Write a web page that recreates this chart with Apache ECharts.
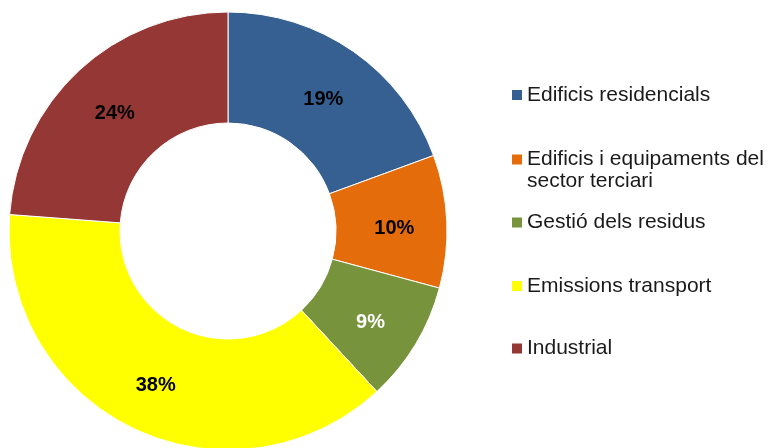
<!DOCTYPE html>
<html>
<head>
<meta charset="utf-8">
<script src="https://cdn.jsdelivr.net/npm/echarts@6/dist/echarts.min.js"></script>
<style>
html,body{margin:0;padding:0;background:#fff;}
#c{width:769px;height:448px;}
</style>
</head>
<body>
<div id="c"></div>
<script>
const categories = ["Edificis residencials", "Edificis i equipaments del sector terciari", "Gestió dels residus", "Emissions transport", "Industrial"];
const values = [19.4, 9.8, 8.9, 38.1, 23.8];
const colors = ["#376092", "#E46C0A", "#77933C", "#FFFF00", "#953735"];
const labelColors = ["#000", "#000", "#fff", "#000", "#000"];

const FONT = "'Liberation Sans', Arial, sans-serif";
const legendTops = [84, 126.5, 211.5, 275, 337.5];

const chart = echarts.init(document.getElementById('c'), null, {renderer: 'canvas'});
const legends = categories.map((name, i) => ({
  left: 512,
  top: legendTops[i],
  padding: 0,
  orient: 'vertical',
  itemWidth: 10,
  itemHeight: 10,
  icon: 'rect',
  selectedMode: false,
  itemStyle: {borderWidth: 0},
  data: [name],
  // multi-line entries: blank first line so the marker sits beside the first text line
  formatter: n => (n.length > 30 ? '\n' : '') + n,
  textStyle: {
    fontFamily: FONT,
    fontSize: 21,
    color: '#1a1a1a',
    lineHeight: 22,
    width: 245,
    overflow: 'break'
  }
}));

chart.setOption({
  animation: false,
  color: colors,
  legend: legends,
  series: [{
    type: 'pie',
    center: [228, 231],
    radius: [108, 219],
    startAngle: 90,
    clockwise: true,
    avoidLabelOverlap: false,
    itemStyle: {borderColor: '#fff', borderWidth: 1},
    label: {
      show: true,
      position: 'inside',
      offset: [0, 5],
      fontFamily: FONT,
      fontSize: 20,
      fontWeight: 'bold',
      formatter: p => Math.round(p.value) + '%'
    },
    labelLine: {show: false},
    emphasis: {disabled: true},
    data: categories.map((n, i) => ({
      name: n,
      value: values[i],
      label: {color: labelColors[i]}
    }))
  }]
});
</script>
</body>
</html>
